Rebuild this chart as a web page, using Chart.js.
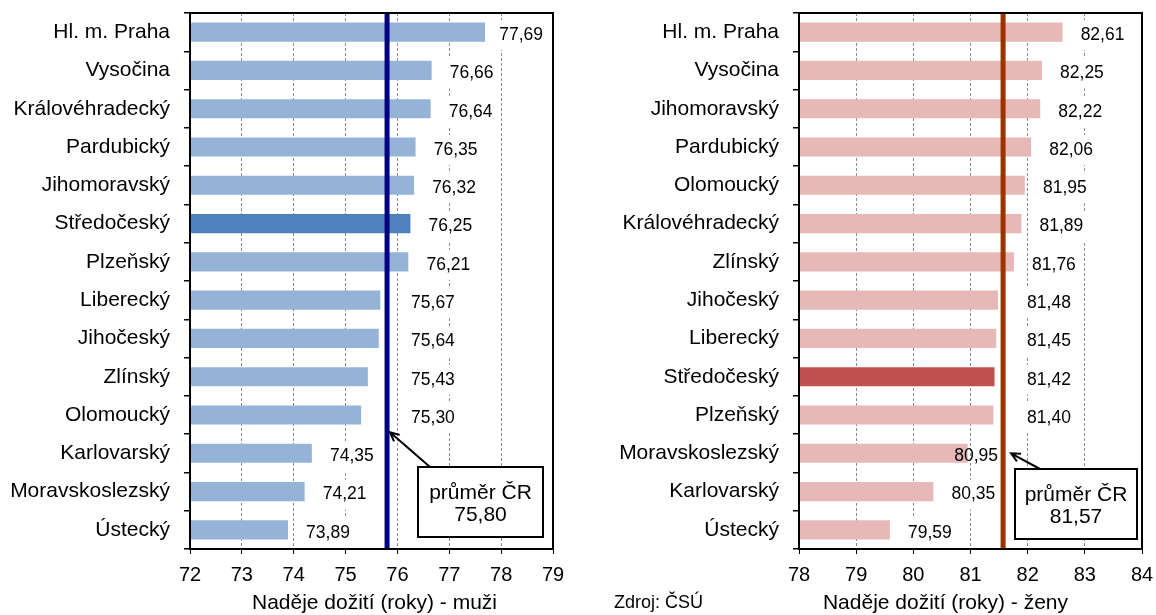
<!DOCTYPE html>
<html>
<head>
<meta charset="utf-8">
<script src="https://cdn.jsdelivr.net/npm/chart.js@4.4.1/dist/chart.umd.min.js"></script>
<style>
  body { margin: 0; background: #fff; width: 1156px; height: 615px; position: relative; overflow: hidden; }
  canvas { position: absolute; top: 0; }
  #menChart { left: 0; }
  #womenChart { left: 580px; }
  #source { position: absolute; left: 614px; top: 592px; font: 18px "Liberation Sans", Arial, sans-serif; color: #000; }
</style>
</head>
<body>
<canvas id="menChart" width="580" height="615"></canvas>
<canvas id="womenChart" width="576" height="615"></canvas>
<div id="source">Zdroj: ČSÚ</div>
<script>
// naděje dožití podle krajů
const menRegions = ['Hl. m. Praha', 'Vysočina', 'Královéhradecký', 'Pardubický', 'Jihomoravský', 'Středočeský', 'Plzeňský',
  'Liberecký', 'Jihočeský', 'Zlínský', 'Olomoucký', 'Karlovarský', 'Moravskoslezský', 'Ústecký'];
const menValues = [77.69, 76.66, 76.64, 76.35, 76.32, 76.25, 76.21, 75.67, 75.64, 75.43, 75.30, 74.35, 74.21, 73.89];
const menAverage = 75.80;
const menAxis = [72, 79];

const womenRegions = ['Hl. m. Praha', 'Vysočina', 'Jihomoravský', 'Pardubický', 'Olomoucký', 'Královéhradecký', 'Zlínský',
  'Jihočeský', 'Liberecký', 'Středočeský', 'Plzeňský', 'Moravskoslezský', 'Karlovarský', 'Ústecký'];
const womenValues = [82.61, 82.25, 82.22, 82.06, 81.95, 81.89, 81.76, 81.48, 81.45, 81.42, 81.40, 80.95, 80.35, 79.59];
const womenAverage = 81.57;
const womenAxis = [78, 84];

const highlightRegion = 'Středočeský';
const FONT = '"Liberation Sans", Arial, sans-serif';

const fmt = v => v.toFixed(2).replace('.', ',');

function overlay(cfg) {
  return {
    id: 'overlay',
    afterDatasetsDraw(chart) {
      const {ctx, chartArea: a, scales: {x, y}} = chart;
      const lineX = x.getPixelForValue(cfg.average);
      const meta = chart.getDatasetMeta(0);
      ctx.save();

      // popisky hodnot
      ctx.font = '17.5px ' + FONT;
      ctx.textAlign = 'center';
      ctx.textBaseline = 'middle';
      cfg.values.forEach((v, i) => {
        const bar = meta.data[i];
        const text = fmt(v);
        const w = ctx.measureText(text).width;
        let cx = bar.x + 40, boxed = true;
        // popisek blízko čáry průměru odsunout
        if (cx - w / 2 < lineX + 24 && cx + w / 2 + 3 > lineX - 4) {
          const right = lineX + 24 + w / 2, left = lineX - 5 - w / 2;
          if (Math.abs(left - cx) < Math.abs(right - cx)) { cx = left; boxed = false; }
          else cx = right;
        }
        cx = Math.min(cx, a.right - 10 - w / 2);
        const cy = bar.y + 3;
        if (boxed) {
          ctx.fillStyle = '#fff';
          ctx.fillRect(cx - w / 2 - 4, cy - 15, w + 8, 30);
        }
        ctx.fillStyle = '#000';
        ctx.fillText(text, cx, cy);
      });

      // průměr
      ctx.fillStyle = cfg.lineColor;
      ctx.fillRect(lineX - 2.5, a.top, 5, a.bottom - a.top);

      // rámeček
      ctx.strokeStyle = '#000';
      ctx.lineWidth = 2;
      ctx.strokeRect(a.left, a.top, a.right - a.left, a.bottom - a.top);

      // okénko s průměrem
      const bw = cfg.box.w, bh = 70;
      const bx = a.right - cfg.box.rightGap - bw, by = a.bottom - cfg.box.bottomGap - bh;
      ctx.fillStyle = '#fff';
      ctx.fillRect(bx, by, bw, bh);
      ctx.strokeRect(bx, by, bw, bh);
      ctx.fillStyle = '#000';
      ctx.font = '21px ' + FONT;
      ctx.fillText('průměr ČR', bx + bw / 2, by + 26);
      ctx.fillText(fmt(cfg.average), bx + bw / 2, by + 48);

      // šipka
      const tx = bx + cfg.arrow.tailDx, ty = by;
      const hx = lineX + cfg.arrow.tipDx, hy = y.getPixelForValue(cfg.arrow.tipIndex);
      ctx.beginPath();
      ctx.moveTo(tx, ty);
      ctx.lineTo(hx, hy);
      const ang = Math.atan2(hy - ty, hx - tx);
      ctx.moveTo(hx - 10 * Math.cos(ang - 0.45), hy - 10 * Math.sin(ang - 0.45));
      ctx.lineTo(hx, hy);
      ctx.lineTo(hx - 10 * Math.cos(ang + 0.45), hy - 10 * Math.sin(ang + 0.45));
      ctx.stroke();

      // popis osy
      ctx.font = '21px ' + FONT;
      ctx.fillText(cfg.title, (a.left + a.right) / 2 + cfg.titleShift, 603);
      ctx.restore();
    }
  };
}

function makeChart(id, cfg) {
  return new Chart(document.getElementById(id), {
    type: 'bar',
    data: {
      labels: cfg.regions,
      datasets: [{
        data: cfg.values,
        backgroundColor: cfg.regions.map(r => r === highlightRegion ? cfg.strong : cfg.light),
        borderWidth: 0,
        barPercentage: 0.5,
        categoryPercentage: 1
      }]
    },
    options: {
      indexAxis: 'y',
      responsive: false,
      animation: false,
      devicePixelRatio: 1,
      layout: { padding: { top: 13, right: cfg.padRight, bottom: 0, left: 0 } },
      plugins: { legend: { display: false }, tooltip: { enabled: false } },
      scales: {
        x: {
          min: cfg.axis[0],
          max: cfg.axis[1],
          afterFit: s => { s.height = 66; s.paddingLeft = 0; s.paddingRight = 0; },
          ticks: { stepSize: 1, color: '#000', font: { family: FONT, size: 20 }, padding: 9 },
          grid: { color: '#8c8c8c', lineWidth: 1, tickColor: '#000', tickLength: 5 },
          border: { display: false, dash: [3, 2] }
        },
        y: {
          afterFit: s => { s.width = cfg.axisWidth; s.paddingTop = 0; s.paddingBottom = 0; },
          ticks: { color: '#000', font: { family: FONT, size: 21 }, padding: 14 },
          grid: { drawOnChartArea: false, color: '#000', tickLength: 6, lineWidth: 1.5 },
          border: { display: false }
        }
      }
    },
    plugins: [overlay(cfg)]
  });
}

makeChart('menChart', {
  regions: menRegions, values: menValues, average: menAverage, axis: menAxis,
  light: '#95B3D7', strong: '#4F81BD', lineColor: '#000080',
  axisWidth: 190, padRight: 27, title: 'Naděje dožití (roky) - muži', titleShift: 3,
  box: { w: 125, rightGap: 10, bottomGap: 12 },
  arrow: { tailDx: 12, tipDx: 3, tipIndex: 10.45 }
});

makeChart('womenChart', {
  regions: womenRegions, values: womenValues, average: womenAverage, axis: womenAxis,
  light: '#E6B9B8', strong: '#C0504D', lineColor: '#993300',
  axisWidth: 219, padRight: 14, title: 'Naděje dožití (roky) - ženy', titleShift: -25,
  box: { w: 122, rightGap: 5, bottomGap: 10 },
  arrow: { tailDx: 25, tipDx: 8, tipIndex: 11 }
});
</script>
</body>
</html>
